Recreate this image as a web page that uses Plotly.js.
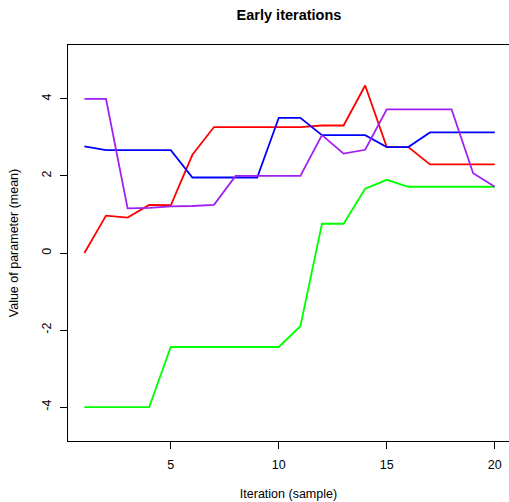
<!DOCTYPE html>
<html>
<head>
<meta charset="utf-8">
<script src="https://cdn.plot.ly/plotly-3.0.1.min.js"></script>
<style>html,body{margin:0;padding:0;background:#fff;}#plot{width:509px;height:502px;}</style>
</head>
<body>
<div id="plot"></div>
<script>
const iterations = [1,2,3,4,5,6,7,8,9,10,11,12,13,14,15,16,17,18,19,20];
const redSeries    = [0.00,0.97,0.92,1.25,1.24,2.55,3.27,3.27,3.27,3.27,3.27,3.31,3.31,4.35,2.75,2.75,2.30,2.30,2.30,2.30];
const blueSeries   = [2.77,2.67,2.67,2.67,2.67,1.96,1.96,1.96,1.96,3.51,3.51,3.06,3.06,3.06,2.75,2.75,3.13,3.13,3.13,3.13];
const greenSeries  = [-4.00,-4.00,-4.00,-4.00,-2.44,-2.44,-2.44,-2.44,-2.44,-2.44,-1.90,0.76,0.76,1.67,1.90,1.72,1.72,1.72,1.72,1.72];
const purpleSeries = [4.00,4.00,1.16,1.17,1.21,1.22,1.25,2.00,2.00,2.00,2.00,3.06,2.58,2.68,3.73,3.73,3.73,3.73,2.07,1.72];
const xTickVals = [5,10,15,20];
const xTickText = ['5','10','15','20'];
const yTickVals = [-4,-2,0,2,4];
const yTickText = ['-4','-2','0','2','4'];

const font = {family:'Liberation Sans, Arial, Helvetica, sans-serif', color:'#000'};
function tr(y, c){ return {x: iterations, y: y, type:'scatter', mode:'lines', line:{color:c, width:1.8}, hoverinfo:'skip', showlegend:false}; }
const data = [tr(redSeries,'#FF0000'), tr(blueSeries,'#0000FF'), tr(greenSeries,'#00FF00'), tr(purpleSeries,'#A020F0')];

const layout = {
  width:509, height:502,
  margin:{l:68, r:0, t:45, b:61, pad:0},
  paper_bgcolor:'#fff', plot_bgcolor:'#fff',
  font: Object.assign({size:12.5}, font),
  title:{text:'<b>Early iterations</b>', font:Object.assign({size:14.5}, font), x:(289/509), xanchor:'center', xref:'container', y:1-15/502, yanchor:'middle', yref:'container'},
  xaxis:{range:[0.24,20.66], tickvals:xTickVals, ticktext:xTickText, ticks:'outside', ticklen:7, tickwidth:1, tickcolor:'#000',
    showgrid:false, zeroline:false, showline:true, linecolor:'#000', linewidth:1, mirror:true, ticklabelstandoff:5,
    tickfont:Object.assign({size:12.5}, font),
    title:{text:'Iteration (sample)', font:Object.assign({size:12.5}, font), standoff:18}},
  yaxis:{range:[-4.88,5.40], tickvals:yTickVals, ticktext:yTickText, ticks:'outside', ticklen:7, tickwidth:1, tickcolor:'#000',
    tickangle:-90, showgrid:false, zeroline:false, showline:true, linecolor:'#000', linewidth:1, ticklabelstandoff:4,
    tickfont:Object.assign({size:12.5}, font),
    title:{text:'Value of parameter (mean)', font:Object.assign({size:12.5}, font), standoff:18}}
};
Plotly.newPlot('plot', data, layout, {staticPlot:true, displayModeBar:false});
</script>
</body>
</html>
